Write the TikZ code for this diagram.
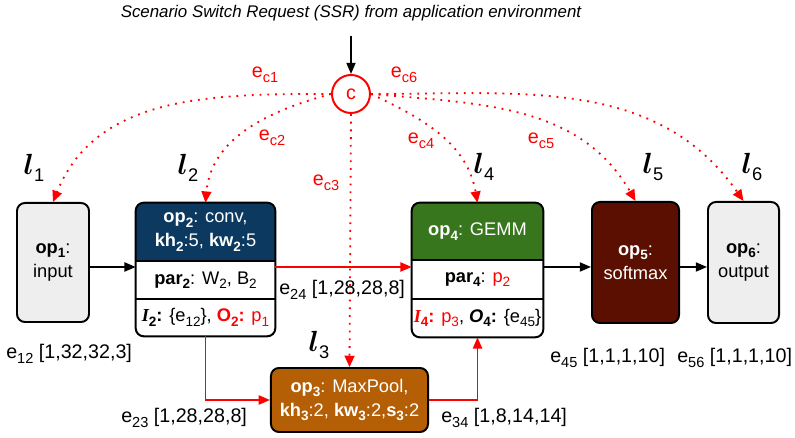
\documentclass[tikz,border=0pt]{standalone}
\usepackage{fontspec}
\usepackage{bm}
\setmainfont{Liberation Sans}
\newfontfamily\serifI{Liberation Serif}
\usetikzlibrary{arrows.meta}

\definecolor{opnavy}{RGB}{11,57,96}
\definecolor{opgreen}{RGB}{56,118,29}
\definecolor{opbrown}{RGB}{91,15,0}
\definecolor{oporange}{RGB}{180,95,6}
\definecolor{opgray}{RGB}{238,238,238}

\newcommand{\sub}[1]{\raisebox{-0.45ex}{\scalebox{0.74}{#1}}}
\newcommand{\layer}[1]{{\fontsize{20}{20}\selectfont$\bm{l}$}\raisebox{-5pt}{#1}}

\begin{document}
\begin{tikzpicture}[x=0.025cm, y=0.025cm, font=\fontsize{13}{17}\selectfont,
    opbox/.style={draw, line width=1.4pt, rounded corners=0.2cm, align=center, inner sep=0pt},
    opframe/.style={line width=1.4pt, rounded corners=0.2cm},
    lbl/.style={font=\fontsize{14}{16}\selectfont, anchor=west, inner sep=0pt},
    elbl/.style={font=\fontsize{14}{16}\selectfont, text=red, inner sep=0pt},
    flow/.style={line width=1.2pt, -{Triangle[length=8pt,width=6.5pt]}},
    ctrl/.style={red, line width=1.3pt, dash pattern=on 1.3pt off 4.2pt,
        -{Triangle[length=8pt,width=7pt]}}]
    \useasboundingbox (0,0) rectangle (795,438);

    % Request and control node
    \node[font=\fontsize{12}{14}\selectfont\itshape] (ssr) at (351,425)
        {Scenario Switch Request (SSR) from application environment};
    \node[circle, draw=red, line width=1.4pt, minimum size=0.95cm, inner sep=0pt,
        text=red, font=\fontsize{14}{16}\selectfont] (c) at (351,344) {c};
    \draw[flow] ([yshift=-7pt]ssr.south) -- (c.north);

    % Operators
    \node[opbox, fill=opgray, minimum width=1.8cm, minimum height=2.975cm] (op1)
        at (53,175.5) {\textbf{op\sub{1}}:\\input};
    \node[opbox, fill=opbrown, text=white, minimum width=2.175cm, minimum height=3.025cm] (op5)
        at (635.5,175.5) {\textbf{op\sub{5}}:\\softmax};
    \node[opbox, fill=opgray, minimum width=1.775cm, minimum height=3.025cm] (op6)
        at (743.5,175.5) {\textbf{op\sub{6}}:\\output};
    \node[opbox, fill=oporange, text=white, minimum width=3.925cm, minimum height=1.6cm] (op3)
        at (349.5,38) {\textbf{op\sub{3}}: MaxPool,\\
        \textbf{kh\sub{3}}:2, \textbf{kw\sub{3}}:2,\textbf{s\sub{3}}:2};

    % op2 with parameters
    \node[minimum width=3.475cm, minimum height=3.325cm, inner sep=0pt] (op2) at (205.5,168.5) {};
    \begin{scope}
        \clip[rounded corners=0.2cm] (op2.south west) rectangle (op2.north east);
        \fill[opnavy] (op2.north west) rectangle (op2.east |- 0,177);
    \end{scope}
    \draw[line width=1.2pt] (op2.west |- 0,177) -- (op2.east |- 0,177);
    \draw[line width=1.2pt] (op2.west |- 0,139) -- (op2.east |- 0,139);
    \draw[opframe] (op2.south west) rectangle (op2.north east);
    \node[text=white, align=center] (op2head) at (205.5,206)
        {\textbf{op\sub{2}}: conv,\\ \textbf{kh\sub{2}}:5, \textbf{kw\sub{2}}:5};
    \node (op2par) at (205.5,158) {\textbf{par\sub{2}}: W\sub{2}, B\sub{2}};
    \node (op2io) at (205.5,120.5) {\textbf{{\serifI\itshape I}\sub{2}:} \{e\sub{12}\},
        \textcolor{red}{\textbf{O\sub{2}:} p\sub{1}}};

    % op4 with parameters
    \node[minimum width=3.275cm, minimum height=3.35cm, inner sep=0pt] (op4) at (477.5,168) {};
    \begin{scope}
        \clip[rounded corners=0.2cm] (op4.south west) rectangle (op4.north east);
        \fill[opgreen] (op4.north west) rectangle (op4.east |- 0,178);
    \end{scope}
    \draw[line width=1.2pt] (op4.west |- 0,178) -- (op4.east |- 0,178);
    \draw[line width=1.2pt] (op4.west |- 0,139) -- (op4.east |- 0,139);
    \draw[opframe] (op4.south west) rectangle (op4.north east);
    \node[text=white] (op4head) at (477.5,206.5) {\textbf{op\sub{4}}: GEMM};
    \node (op4par) at (477.5,158.5) {\textbf{par\sub{4}}: \textcolor{red}{p\sub{2}}};
    \node (op4io) at (477.5,120) {\textcolor{red}{\textbf{{\serifI\itshape I}\sub{4}:} p\sub{3}},
        \textbf{\textit{O}\sub{4}:} \{e\sub{45}\}};

    % Data edges
    \coordinate (row) at (0,171);
    \draw[flow] (op1.east |- row) -- (op2.west |- row);
    \draw[flow, red] (op2.east |- row) -- (op4.west |- row);
    \draw[flow] (op4.east |- row) -- (op5.west |- row);
    \draw[flow] (op5.east |- row) -- (op6.west |- row);
    \draw[flow, red] (op2.south) |- (op3.west);
    \draw[flow, red] (op3.east) -| (op4.south);

    % Control edges
    \draw[ctrl] (c.west) to[out=180, in=68] (op1.north);
    \draw[ctrl] (c.west) to[out=195, in=85] (op2.north);
    \draw[ctrl] (c.south) -- (op3.north);
    \draw[ctrl] (c.east) to[out=-25, in=100] (op4.north);
    \draw[ctrl] (c.east) to[out=-5, in=120] (op5.north);
    \draw[ctrl] (c.east) to[out=0, in=125] (op6.north);

    % Edge labels
    \node[lbl] (e12) at (6,84) {e\sub{12} [1,32,32,3]};
    \node[lbl] (e24) at (279,148) {e\sub{24} [1,28,28,8]};
    \node[lbl] (e23) at (121,20) {e\sub{23} [1,28,28,8]};
    \node[lbl] (e34) at (441,20) {e\sub{34} [1,8,14,14]};
    \node[lbl] (e45) at (550,80) {e\sub{45} [1,1,1,10]};
    \node[lbl] (e56) at (677,80) {e\sub{56} [1,1,1,10]};
    \node[elbl] (ec1) at (265,363) {e\sub{c1}};
    \node[elbl] (ec6) at (404,363) {e\sub{c6}};
    \node[elbl] (ec2) at (272,300) {e\sub{c2}};
    \node[elbl] (ec3) at (326,255) {e\sub{c3}};
    \node[elbl] (ec4) at (421,297) {e\sub{c4}};
    \node[elbl] (ec5) at (541,297) {e\sub{c5}};

    % Layers
    \node (l1) at (34,270) {\layer{1}};
    \node (l2) at (188,270) {\layer{2}};
    \node (l3) at (319,93) {\layer{3}};
    \node (l4) at (484,271) {\layer{4}};
    \node (l5) at (653,271) {\layer{5}};
    \node (l6) at (752,271) {\layer{6}};
\end{tikzpicture}
\end{document}
